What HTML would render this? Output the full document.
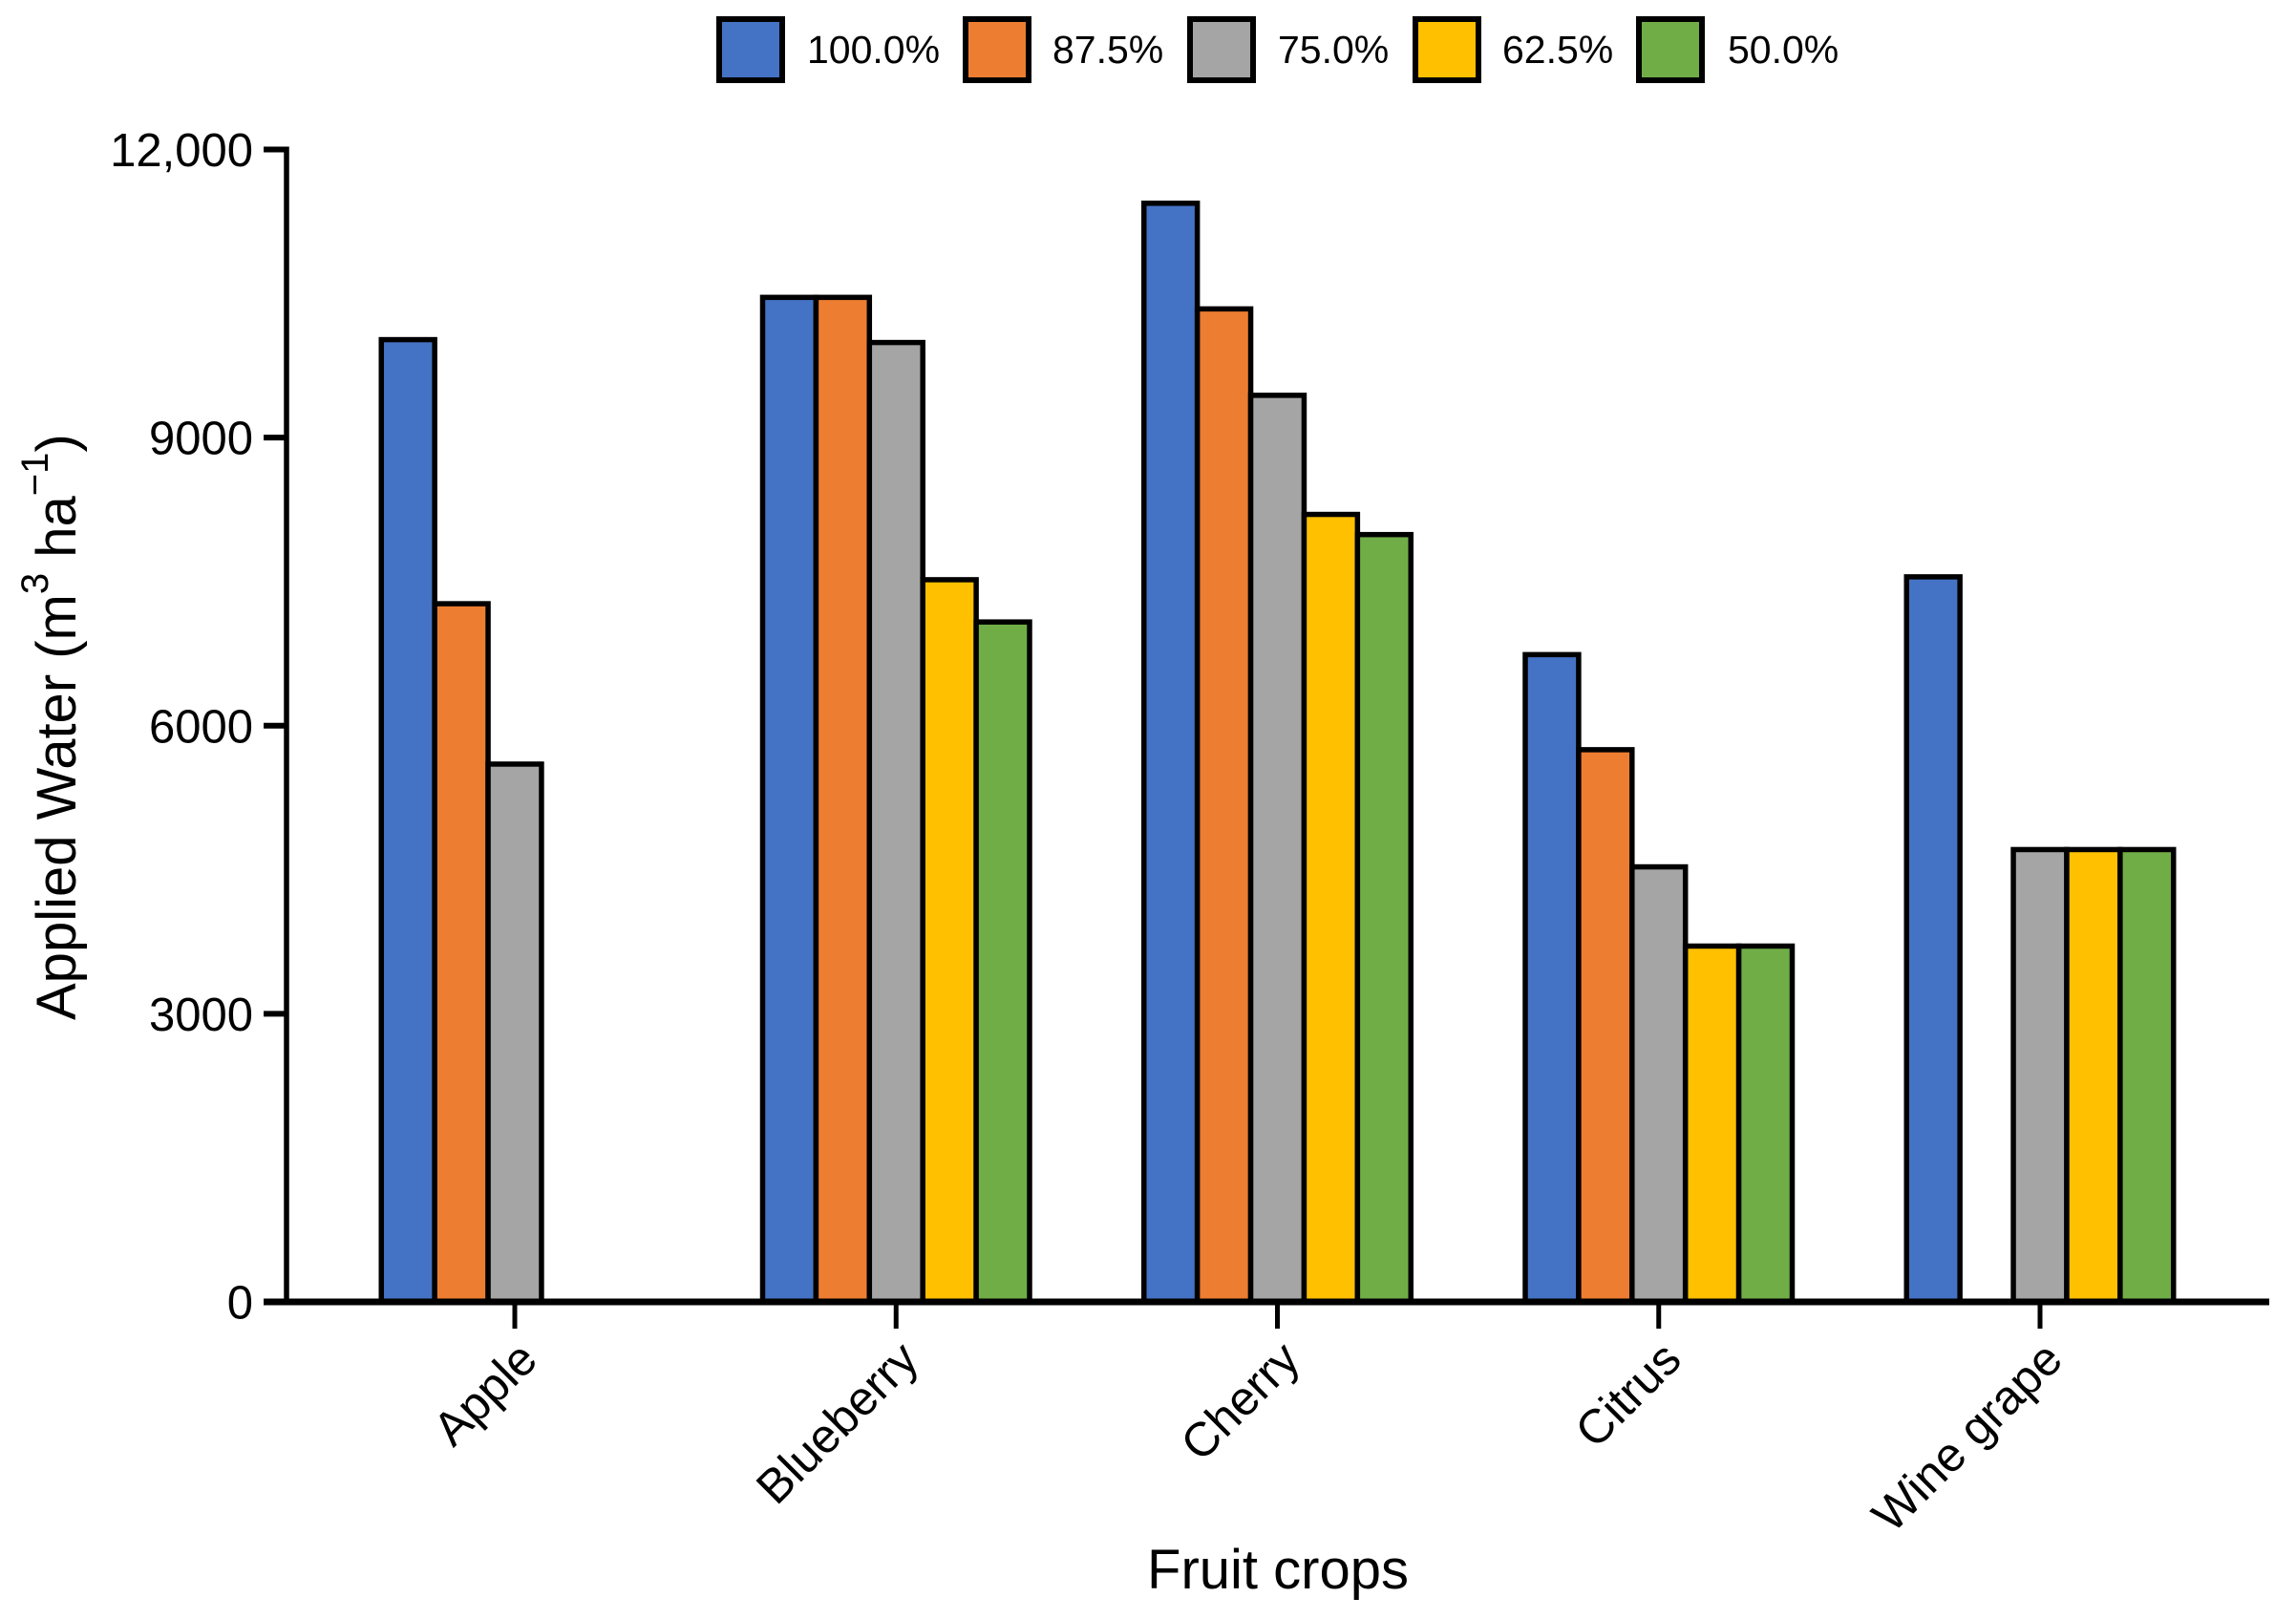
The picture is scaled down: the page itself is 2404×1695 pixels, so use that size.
<!DOCTYPE html>
<html lang="en">
<head>
<meta charset="utf-8">
<title>Applied water by fruit crop</title>
<style>
  html, body { margin: 0; padding: 0; background: #fff; }
  svg { display: block; font-family: "Liberation Sans", Arial, sans-serif; fill: #000; }
</style>
</head>
<body>
<svg id="chart" xmlns="http://www.w3.org/2000/svg" width="2404" height="1695" viewBox="0 0 2404 1695">
  <rect x="0" y="0" width="2404" height="1695" fill="#fff"/>

  <g id="legend">
    <g>
      <rect x="753" y="20" width="66" height="64" fill="#4472C4" stroke="#000" stroke-width="6"/>
      <text x="845" y="66" font-size="41">100.0%</text>
    </g>
    <g>
      <rect x="1011" y="20" width="66" height="64" fill="#ED7D31" stroke="#000" stroke-width="6"/>
      <text x="1102" y="66" font-size="41">87.5%</text>
    </g>
    <g>
      <rect x="1246" y="20" width="66" height="64" fill="#A5A5A5" stroke="#000" stroke-width="6"/>
      <text x="1338" y="66" font-size="41">75.0%</text>
    </g>
    <g>
      <rect x="1482" y="20" width="66" height="64" fill="#FFC000" stroke="#000" stroke-width="6"/>
      <text x="1573" y="66" font-size="41">62.5%</text>
    </g>
    <g>
      <rect x="1716" y="20" width="66" height="64" fill="#70AD47" stroke="#000" stroke-width="6"/>
      <text x="1809" y="66" font-size="41">50.0%</text>
    </g>
  </g>

  <g id="bars"></g>
  <g id="axes"></g>

  <text transform="translate(79 1068) rotate(-90)" font-size="58">Applied Water (m<tspan font-size="40" dy="-29">3</tspan><tspan dy="29"> ha</tspan><tspan font-size="40" dy="-29">−1</tspan><tspan dy="29">)</tspan></text>
  <text x="1338" y="1663" font-size="58" text-anchor="middle">Fruit crops</text>
</svg>

<script>
const categories = ["Apple", "Blueberry", "Cherry", "Citrus", "Wine grape"];
const seriesNames = ["100.0%", "87.5%", "75.0%", "62.5%", "50.0%"];
const series100 = [10020, 10460, 11440, 6740, 7550];
const series875 = [7270, 10460, 10340, 5750, null];
const series750 = [5600, 9990, 9440, 4530, 4710];
const series625 = [null, 7520, 8200, 3705, 4710];
const series500 = [null, 7080, 7990, 3705, 4710];
const yTickValues = [0, 3000, 6000, 9000, 12000];
const yTickLabels = ["0", "3000", "6000", "9000", "12,000"];
const seriesColors = ["#4472C4", "#ED7D31", "#A5A5A5", "#FFC000", "#70AD47"];
const allSeries = [series100, series875, series750, series625, series500];

const NS = "http://www.w3.org/2000/svg";
const plot = { x0: 300, xFirst: 539, xStep: 399.25, yZero: 1363, yTop: 156.5, yMax: 12000, barW: 55.9, xEnd: 2376 };

function yScale(v) {
  return plot.yZero - (v / plot.yMax) * (plot.yZero - plot.yTop);
}
function xScale(i) {
  return plot.xFirst + i * plot.xStep;
}
function slug(s) {
  return s.toLowerCase().replace(/[^a-z0-9]+/g, "-").replace(/^-|-$/g, "");
}
function make(tag, attrs, parent) {
  const el = document.createElementNS(NS, tag);
  for (const k in attrs) el.setAttribute(k, attrs[k]);
  parent.appendChild(el);
  return el;
}

const barsG = document.getElementById("bars");
allSeries.forEach(function (vals, s) {
  vals.forEach(function (v, c) {
    if (v === null) return;
    const left = xScale(c) + (s - seriesNames.length / 2) * plot.barW;
    const top = yScale(v);
    const bar = make("rect", {
      x: left, y: top, width: plot.barW, height: plot.yZero - top,
      fill: seriesColors[s], stroke: "#000", "stroke-width": 5.5
    }, barsG);
    
    
  });
});

const axesG = document.getElementById("axes");

const yAxis = make("line", { x1: plot.x0, x2: plot.x0, y1: yScale(plot.yMax) - 3, y2: plot.yZero, stroke: "#000", "stroke-width": 5.5 }, axesG);



const xAxis = make("line", { x1: 276, x2: plot.xEnd, y1: plot.yZero, y2: plot.yZero, stroke: "#000", "stroke-width": 7 }, axesG);



yTickValues.forEach(function (v, i) {
  const y = yScale(v);
  if (v !== 0) {
    const tick = make("line", { x1: 276, x2: plot.x0, y1: y, y2: y, stroke: "#000", "stroke-width": 6 }, axesG);
    
    
  }
  const label = make("text", { x: 265, y: y + 17.5, "font-size": 49, "text-anchor": "end" }, axesG);
  label.textContent = yTickLabels[i];
  
  
});

categories.forEach(function (name, i) {
  const x = xScale(i);
  const tick = make("line", { x1: x, x2: x, y1: plot.yZero, y2: 1391, stroke: "#000", "stroke-width": 5 }, axesG);
  
  
  const label = make("text", {
    transform: "translate(" + (x + 26) + " 1426) rotate(-45)",
    "font-size": 50, "text-anchor": "end"
  }, axesG);
  label.textContent = name;
  
  
});
</script>
</body>
</html>
